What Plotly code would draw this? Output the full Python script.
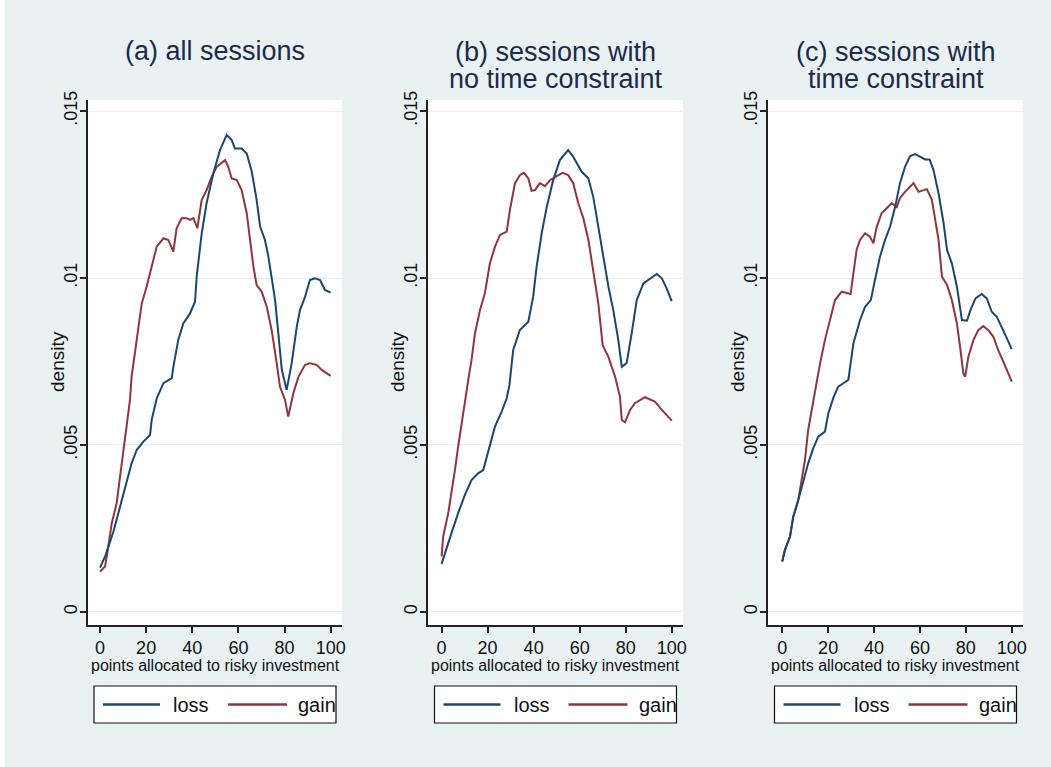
import plotly.graph_objects as go

# ---------------- data ----------------
x_a_loss = [0, 2.2, 5.8, 9.4, 11.6, 13.7, 15.9, 18.8, 21.7, 22.4, 24.6, 27.5, 31.1, 31.8, 33.9, 36.1, 39, 41.2, 41.9,
            44.1, 46.2, 49.1, 52, 54.9, 57.1, 58.5, 61.4, 63.6, 65.8, 67.9, 69.4, 71.5, 73, 74.4, 75.9, 77.3, 78.8,
            80.9, 83.1, 85.3, 86.7, 88.9, 91, 93.2, 95.4, 97.5, 100]
d_a_loss = [0.00133, 0.00166, 0.0024, 0.00335, 0.0039, 0.00445, 0.00485, 0.0051, 0.0053, 0.00575, 0.0064, 0.00685,
            0.0070, 0.00734, 0.00814, 0.00864, 0.00894, 0.00929, 0.01004, 0.01134, 0.01224, 0.01313, 0.01383,
            0.01428, 0.01413, 0.01388, 0.01388, 0.01373, 0.01318, 0.01234, 0.01154, 0.01114, 0.01064, 0.01004,
            0.00934, 0.00834, 0.00725, 0.00665, 0.00745, 0.00854, 0.00904, 0.00944, 0.00994, 0.00999, 0.00994,
            0.00964, 0.00956]

x_a_gain = [0, 2.2, 3.6, 5.1, 7.2, 8.7, 10.1, 11.6, 13, 13.7, 15.9, 18.1, 20.2, 22.4, 24.6, 27.5, 29.6, 31.8, 33.2,
            35.4, 37.6, 39, 40.5, 42.2, 44.1, 46.2, 48.4, 50.6, 54.2, 55.6, 57.1, 59.3, 61.4, 63.6, 65, 66.5, 67.9,
            70.1, 72.3, 74.4, 76.6, 78, 80.2, 81.6, 83.8, 86, 88.9, 91, 93.9, 96.1, 100]
d_a_gain = [0.00121, 0.00136, 0.00196, 0.00266, 0.00325, 0.00405, 0.00485, 0.00555, 0.00635, 0.00704, 0.00814,
            0.00924, 0.00974, 0.01034, 0.01094, 0.01119, 0.01114, 0.01079, 0.01149, 0.01179, 0.01179, 0.01174,
            0.01179, 0.01149, 0.01234, 0.01263, 0.01303, 0.01333, 0.01353, 0.01333, 0.01298, 0.01293, 0.01263,
            0.01194, 0.01114, 0.01034, 0.00979, 0.00959, 0.00914, 0.00844, 0.00745, 0.00675, 0.00635, 0.00585,
            0.00655, 0.00704, 0.0074, 0.00745, 0.0074, 0.00725, 0.00707]

x_b_loss = [0, 1.4, 4.3, 7.2, 10.1, 13, 15.9, 18.1, 20.3, 23.2, 26.1, 28.3, 29.5, 31.1, 34, 37.7, 39.8, 41.3, 43.5,
            45.7, 48.5, 51.4, 55, 57.2, 60.9, 63.8, 65.9, 68.1, 70.3, 72.5, 74.6, 76.8, 78.3, 80.4, 82.6, 84.8,
            87.7, 90.6, 93.5, 95.7, 97.8, 100]
d_b_loss = [0.00144, 0.00176, 0.00236, 0.00296, 0.0035, 0.00395, 0.00415, 0.00425, 0.0048, 0.00555, 0.006, 0.0064,
            0.0068, 0.00784, 0.00844, 0.00869, 0.00944, 0.01034, 0.01134, 0.01213, 0.01293, 0.01353, 0.01383,
            0.01363, 0.01318, 0.01298, 0.01243, 0.01154, 0.01064, 0.00974, 0.00904, 0.00814, 0.00734, 0.00745,
            0.00834, 0.00934, 0.00984, 0.00999, 0.01012, 0.00999, 0.00969, 0.00931]

x_b_gain = [0, 0.7, 2.9, 4.3, 5.8, 7.2, 8.7, 10.1, 11.6, 13, 14.5, 16.7, 18.8, 21, 23.2, 25.4, 28.3, 29.7, 31.9,
            34, 35.8, 37.7, 39.1, 40.6, 42.7, 44.9, 47.1, 50, 52.6, 55, 57.2, 59.4, 61.6, 63.8, 65.9, 68.1, 70,
            72.5, 75.4, 77.5, 78.3, 79.7, 81.9, 84, 88.4, 92.7, 95.7, 100]
d_b_gain = [0.00166, 0.00226, 0.00296, 0.00355, 0.00425, 0.00495, 0.00565, 0.00635, 0.00695, 0.00754, 0.00834,
            0.00904, 0.00954, 0.01044, 0.01094, 0.01129, 0.01139, 0.01204, 0.01284, 0.01308, 0.01315, 0.01298,
            0.01261, 0.01263, 0.01284, 0.01275, 0.01293, 0.01305, 0.01315, 0.01308, 0.01284, 0.01224, 0.01179,
            0.01114, 0.01024, 0.00924, 0.00799, 0.00764, 0.00704, 0.00645, 0.00575, 0.00568, 0.00605, 0.00625,
            0.00643, 0.0063, 0.00605, 0.00573]

x_c_loss = [0, 1.2, 3.4, 4.8, 7, 9.2, 11.3, 13.5, 15.7, 18.6, 20.1, 22.3, 24.4, 26.6, 28.8, 31, 33.9, 36.1, 38.6,
            40.4, 42.6, 44.8, 47, 49.2, 51.3, 53.5, 55.7, 57.9, 60.1, 62.3, 64.2, 65.9, 68.1, 70.3, 71.8, 73.9,
            76.1, 78.3, 80.5, 82, 84.2, 86.9, 89.1, 91.3, 93.5, 95.7, 97.9, 100]
d_c_loss = [0.00151, 0.00186, 0.00226, 0.00285, 0.00335, 0.00395, 0.00445, 0.0049, 0.00525, 0.0054, 0.00595,
            0.00642, 0.00675, 0.00685, 0.00695, 0.00804, 0.00874, 0.00914, 0.00934, 0.00994, 0.01064, 0.01114,
            0.01154, 0.01213, 0.01284, 0.01333, 0.01365, 0.01371, 0.01363, 0.01355, 0.01355, 0.01323, 0.01254,
            0.01164, 0.01084, 0.01044, 0.00974, 0.00874, 0.00872, 0.00904, 0.00939, 0.00952, 0.00939, 0.00899,
            0.00884, 0.00854, 0.00819, 0.00787]

x_c_gain = [0, 1.2, 3.4, 4.8, 7, 8.5, 9.9, 11.3, 12.8, 14.3, 16.5, 18.6, 20.8, 23, 25.9, 28.1, 29.8, 31, 32.4,
            33.9, 36.1, 38.2, 39.7, 41.2, 43.3, 45.5, 47.7, 49.9, 51.3, 53.5, 55.7, 57.2, 59.4, 61.6, 63, 65.2,
            66.7, 68.1, 69.6, 71.8, 73.9, 76.1, 77.5, 78.9, 79.7, 81.1, 83.3, 85.4, 87.6, 89.8, 92, 94.1, 96.3,
            98.5, 100]
d_c_gain = [0.00151, 0.00186, 0.00226, 0.00285, 0.00335, 0.00395, 0.00455, 0.00545, 0.00605, 0.00655, 0.00745,
            0.00814, 0.00874, 0.00934, 0.00959, 0.00954, 0.00952, 0.01014, 0.01084, 0.01114, 0.01134, 0.01124,
            0.01104, 0.01154, 0.01194, 0.01209, 0.01224, 0.01212, 0.01239, 0.01258, 0.01273, 0.01284, 0.01258,
            0.01263, 0.01266, 0.01234, 0.01174, 0.01114, 0.01004, 0.00979, 0.00934, 0.00864, 0.00794, 0.00715,
            0.00704, 0.00764, 0.00814, 0.00844, 0.00856, 0.00844, 0.00824, 0.00784, 0.0075, 0.00715, 0.0069]

panel_titles = [["(a) all sessions"],
                ["(b) sessions with", "no time constraint"],
                ["(c) sessions with", "time constraint"]]
series_names = ["loss", "gain"]
x_ticks = [0, 20, 40, 60, 80, 100]
y_ticks = [0, 0.005, 0.01, 0.015]
y_tick_text = ["0", ".005", ".01", ".015"]
x_title = "points allocated to risky investment"
y_title = "density"

# ---------------- styling / layout ----------------
W, H = 1051, 767
BG = "#E9F1F3"
GRID = "#E6EEF1"
LOSS = "#1A476F"
GAIN = "#90353B"
TXT = "#111111"
TITLE_C = "#1C2A4C"
FONT = "Liberation Sans, Arial, sans-serif"


def fx(px):
    return px / W


def fy(py):
    return 1 - py / H


# plot areas in pixels: (left, right)
areas = [(88, 342), (428, 683), (768, 1023)]
top_px, bot_px = 100, 625
x_ranges = [[-5.2, 104.9], [-5.9, 104.9], [-6.2, 104.9]]
y_range = [-0.00039, 0.01533]

data = [
    (x_a_loss, d_a_loss, x_a_gain, d_a_gain),
    (x_b_loss, d_b_loss, x_b_gain, d_b_gain),
    (x_c_loss, d_c_loss, x_c_gain, d_c_gain),
]

fig = go.Figure()
layout = dict(
    template="none",
    width=W, height=H,
    margin=dict(l=0, r=0, t=0, b=0, pad=0),
    paper_bgcolor=BG,
    plot_bgcolor="white",
    showlegend=False,
    font=dict(family=FONT, color=TXT),
)

shapes = [dict(type="rect", xref="paper", yref="paper", x0=0, x1=fx(5), y0=0, y1=1,
               fillcolor="white", line=dict(width=0), layer="below")]
annotations = []

for i, ((xl, dl, xg, dg), (l_px, r_px)) in enumerate(zip(data, areas)):
    sfx = "" if i == 0 else str(i + 1)
    xa, ya = "x" + sfx, "y" + sfx
    fig.add_trace(go.Scatter(x=xg, y=dg, mode="lines", name=series_names[1],
                             line=dict(color=GAIN, width=2), xaxis=xa, yaxis=ya))
    fig.add_trace(go.Scatter(x=xl, y=dl, mode="lines", name=series_names[0],
                             line=dict(color=LOSS, width=2), xaxis=xa, yaxis=ya))

    layout["xaxis" + sfx] = dict(
        domain=[fx(l_px), fx(r_px)], anchor=ya, range=x_ranges[i], automargin=False,
        tickmode="array", tickvals=x_ticks, ticks="outside", ticklen=6, tickwidth=1.5,
        tickcolor="#222", showline=True, linecolor="#222", linewidth=1.5,
        showgrid=False, zeroline=False, tickfont=dict(size=18, color=TXT),
    )
    layout["yaxis" + sfx] = dict(
        domain=[fy(bot_px), fy(top_px)], anchor=xa, range=y_range, automargin=False,
        tickmode="array", tickvals=y_ticks, ticktext=y_tick_text, tickangle=-90,
        ticks="outside", ticklen=6, tickwidth=1.5, tickcolor="#222", ticklabelstandoff=-4,
        showline=True, linecolor="#222", linewidth=1.5,
        showgrid=True, gridcolor=GRID, gridwidth=1.2, zeroline=False,
        tickfont=dict(size=18, color=TXT),
    )

    cx = (l_px + r_px) / 2
    # axis titles
    annotations.append(dict(text=x_title, xref="paper", yref="paper", x=fx(cx), y=fy(665),
                            xanchor="center", yanchor="middle", showarrow=False,
                            font=dict(size=16, color=TXT, family=FONT)))
    annotations.append(dict(text=y_title, xref="paper", yref="paper", x=fx(l_px - 31), y=fy(362),
                            xanchor="center", yanchor="middle", showarrow=False, textangle=-90,
                            font=dict(size=19, color=TXT, family=FONT)))
    # panel titles
    lines = panel_titles[i]
    ys = [51] if len(lines) == 1 else [52, 79]
    for txt, yy in zip(lines, ys):
        annotations.append(dict(text=txt, xref="paper", yref="paper", x=fx(cx), y=fy(yy),
                                xanchor="center", yanchor="middle", showarrow=False,
                                font=dict(size=27, color=TITLE_C, family=FONT)))

    # legend box under each panel
    bl = cx - 121
    shapes.append(dict(type="rect", xref="paper", yref="paper", x0=fx(bl), x1=fx(bl + 242),
                       y0=fy(723), y1=fy(686), fillcolor="white",
                       line=dict(color="#111", width=1.2)))
    ly = 704.5
    for (s0, s1, t0, name, col) in [(9, 66, 78, series_names[0], LOSS),
                                    (134, 193, 203, series_names[1], GAIN)]:
        shapes.append(dict(type="line", xref="paper", yref="paper", x0=fx(bl + s0), x1=fx(bl + s1),
                           y0=fy(ly), y1=fy(ly), line=dict(color=col, width=2.5)))
        annotations.append(dict(text=name, xref="paper", yref="paper", x=fx(bl + t0 - 1), y=fy(ly),
                                xanchor="left", yanchor="middle", showarrow=False,
                                font=dict(size=20, color=TXT, family=FONT)))

layout["shapes"] = shapes
layout["annotations"] = annotations
fig.update_layout(**layout)
fig.write_html("out.html", config={"displayModeBar": False},
               post_script="document.body.style.margin='0';")
